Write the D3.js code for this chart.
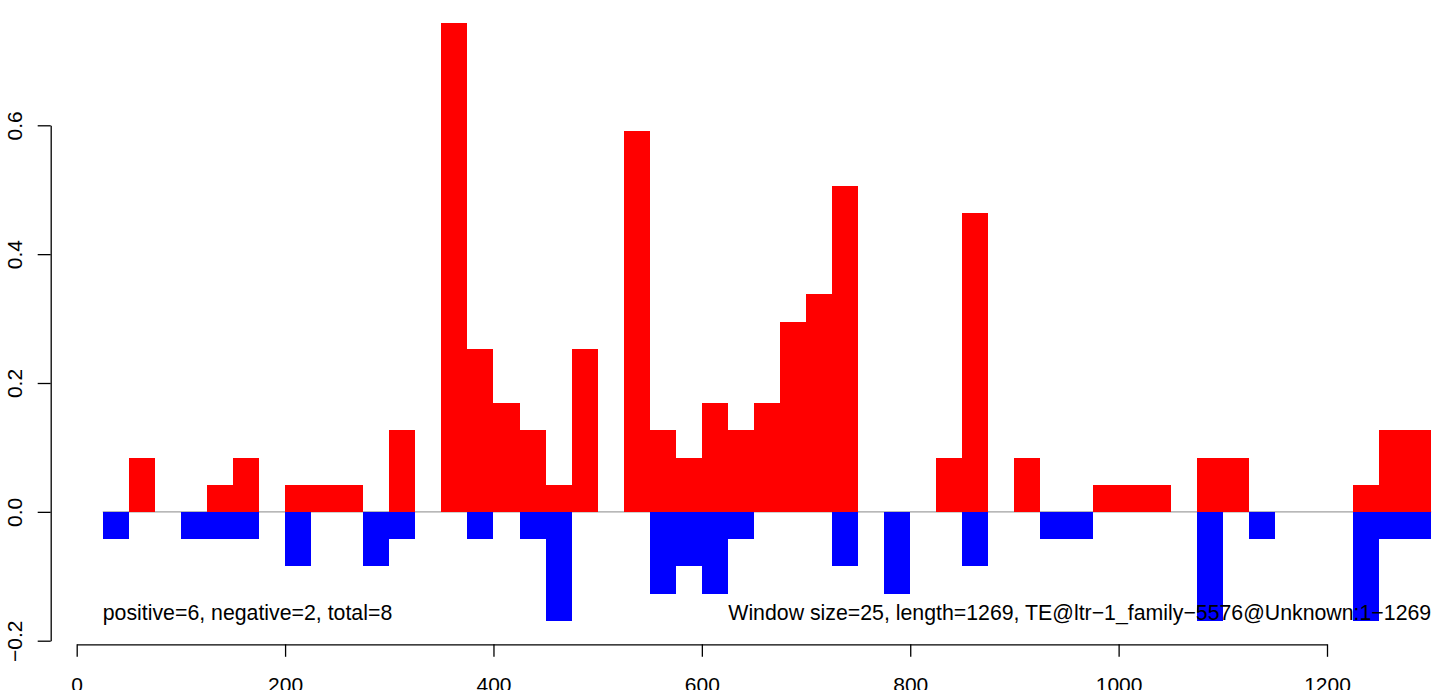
<!DOCTYPE html>
<html>
<head>
<meta charset="utf-8">
<script src="https://cdn.jsdelivr.net/npm/d3@7"></script>
<style>
  html, body { margin: 0; padding: 0; background: #ffffff; }
  svg { display: block; }
  text { font-family: "Liberation Sans", Arial, Helvetica, sans-serif; fill: #000; }
</style>
</head>
<body>
<svg id="chart" width="1441" height="690"></svg>
<script>
// ---- data ----
const windowSize = 25;
const windowStarts = [0, 25, 50, 75, 100, 125, 150, 175, 200, 225, 250, 275, 300, 325, 350, 375, 400, 425, 450, 475,
  500, 525, 550, 575, 600, 625, 650, 675, 700, 725, 750, 775, 800, 825, 850, 875, 900, 925, 950, 975,
  1000, 1025, 1050, 1075, 1100, 1125, 1150, 1175, 1200, 1225, 1250, 1275];
const positiveValues = [0, 0, 0.084, 0, 0, 0.042, 0.084, 0, 0.042, 0.042, 0.042, 0, 0.127, 0, 0.759, 0.253, 0.169, 0.127, 0.042, 0.253,
  0, 0.591, 0.127, 0.084, 0.169, 0.127, 0.169, 0.295, 0.338, 0.506, 0, 0, 0, 0.084, 0.464, 0, 0.084, 0, 0, 0.042,
  0.042, 0.042, 0, 0.084, 0.084, 0, 0, 0, 0, 0.042, 0.127, 0.127];
const negativeValues = [0, -0.042, 0, 0, -0.042, -0.042, -0.042, 0, -0.084, 0, 0, -0.084, -0.042, 0, 0, -0.042, 0, -0.042, -0.169, 0,
  0, 0, -0.127, -0.084, -0.127, -0.042, 0, 0, 0, -0.084, 0, -0.127, 0, 0, -0.084, 0, 0, -0.042, -0.042, 0,
  0, 0, 0, -0.169, 0, -0.042, 0, 0, 0, -0.169, -0.042, -0.042];
const xTickValues = [0, 200, 400, 600, 800, 1000, 1200];
const yTickValues = [-0.2, 0.0, 0.2, 0.4, 0.6];
const leftNote = "positive=6, negative=2, total=8";
const rightNote = "Window size=25, length=1269, TE@ltr\u22121_family\u22125576@Unknown:1\u22121269";

// ---- layout ----
const svg = d3.select("#chart");
const x = d3.scaleLinear().domain([0, 1200]).range([76.7, 1327]);
const y = d3.scaleLinear().domain([-0.2, 0.6]).range([640.7, 125.3]);
const fontSize = 21;
const noteFontSize = 21.3;

const bars = windowStarts.map((s, i) => ({ start: s, pos: positiveValues[i], neg: negativeValues[i] }));

// zero reference line across the windows
const firstStart = d3.min(bars.filter(d => d.pos !== 0 || d.neg !== 0), d => d.start);
const lastEnd = d3.max(windowStarts) + windowSize;
svg.append("line")
  .attr("x1", x(firstStart)).attr("x2", x(lastEnd))
  .attr("y1", y(0)).attr("y2", y(0))
  .attr("stroke", "#a0a0a0").attr("stroke-width", 1.4);

// positive bars
svg.append("g").selectAll("rect")
  .data(bars.filter(d => d.pos > 0))
  .join("rect")
  .attr("x", d => x(d.start))
  .attr("width", d => x(d.start + windowSize) - x(d.start))
  .attr("y", d => y(d.pos))
  .attr("height", d => y(0) - y(d.pos))
  .attr("fill", "#ff0000")
  .attr("shape-rendering", "crispEdges");

// negative bars
svg.append("g").selectAll("rect")
  .data(bars.filter(d => d.neg < 0))
  .join("rect")
  .attr("x", d => x(d.start))
  .attr("width", d => x(d.start + windowSize) - x(d.start))
  .attr("y", y(0))
  .attr("height", d => y(d.neg) - y(0))
  .attr("fill", "#0000ff")
  .attr("shape-rendering", "crispEdges");

// x axis
const xAxis = svg.append("g")
  .attr("transform", `translate(0,${644.3})`)
  .call(d3.axisBottom(x).tickValues(xTickValues).tickFormat(d3.format("d"))
    .tickSize(12.5).tickSizeOuter(0).tickPadding(20));
xAxis.selectAll("path, line").attr("stroke", "#000").attr("stroke-width", 1.3);
xAxis.selectAll("text").style("font-size", fontSize + "px").style("font-family", '"Liberation Sans", Arial, sans-serif').attr("fill", "#000");

// y axis with rotated labels
const yAxis = svg.append("g")
  .attr("transform", `translate(${50.7},0)`)
  .call(d3.axisLeft(y).tickValues(yTickValues).tickFormat(d3.format(".1f"))
    .tickSize(13).tickSizeOuter(0));
yAxis.selectAll("path, line").attr("stroke", "#000").attr("stroke-width", 1.3);
yAxis.selectAll("text")
  .attr("x", null).attr("dy", null)
  .attr("text-anchor", "middle")
  .attr("transform", `translate(${22 - 50.7},0) rotate(-90)`)
  .style("font-size", fontSize + "px").style("font-family", '"Liberation Sans", Arial, sans-serif').attr("fill", "#000");

// annotations
const noteY = y(-0.2) - 20.5;
svg.append("text")
  .attr("x", x(windowStarts[1])).attr("y", noteY)
  .attr("text-anchor", "start")
  .style("font-size", noteFontSize + "px")
  .text(leftNote);
svg.append("text")
  .attr("x", x(lastEnd)).attr("y", noteY)
  .attr("text-anchor", "end")
  .style("font-size", noteFontSize + "px")
  .text(rightNote);
</script>
</body>
</html>
